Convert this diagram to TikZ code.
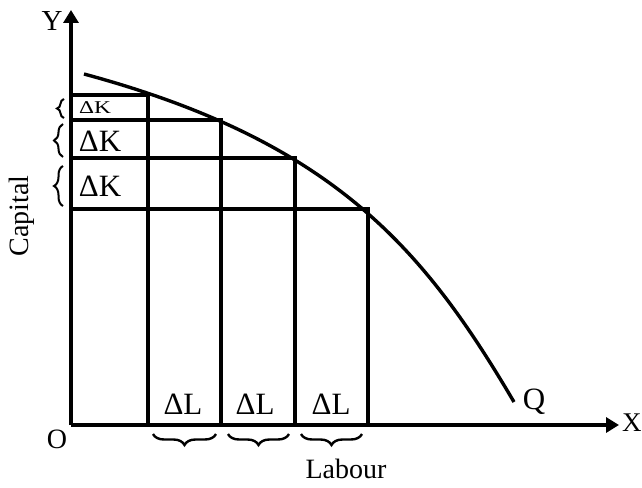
\documentclass[tikz,border=0pt]{standalone}
\usepackage{fontspec}
\setmainfont{Liberation Serif}
\usetikzlibrary{decorations.pathreplacing,arrows.meta}
\tikzset{
  grid/.style={line width=3.2pt},
  axis/.style={line width=3.4pt,-{Triangle[length=13pt,width=15pt]}},
  lbl/.style={font=\fontsize{31}{31}\selectfont, inner sep=0pt},
  smalllbl/.style={font=\fontsize{18}{18}\selectfont, inner sep=0pt, xscale=1.3},
  vbrace/.style={line width=2pt, decorate, decoration={brace, amplitude=9pt}},
  hbrace/.style={line width=2.4pt, decorate, decoration={brace, amplitude=11pt, mirror}},
}
\begin{document}
\begin{tikzpicture}[x=1pt,y=-1pt]
\useasboundingbox (0,0) rectangle (642,487);
\coordinate (O) at (71,425);
\coordinate (Ytip) at (71,10);
\coordinate (Xtip) at (619,425);
% grid
\coordinate (h1) at (71,95);  \coordinate (c1) at (148,95);
\coordinate (h2) at (71,120); \coordinate (c2) at (221,120);
\coordinate (h3) at (71,158); \coordinate (c3) at (295,158);
\coordinate (h4) at (71,209); \coordinate (c4) at (368,209);
\coordinate (b1) at (148,425); \coordinate (b2) at (221,425);
\coordinate (b3) at (295,425); \coordinate (b4) at (368,425);
\draw[grid] (h1) -- (c1) -- (b1);
\draw[grid] (h2) -- (c2) -- (b2);
\draw[grid] (h3) -- (c3) -- (b3);
\draw[grid] (h4) -- (c4) -- (b4);
% axes
\draw[axis] (O) -- (Ytip);
\draw[axis] (O) -- (Xtip);
% curve
\coordinate (qs) at (84,74);
\coordinate (qe) at (514,402);
\draw[line width=3.4pt] (qs) .. controls (334,141.5) and (424,249) .. (qe);
% labels
\node[lbl, font=\fontsize{29}{29}\selectfont] (Ylab) at (52,21) {Y};
\node[lbl, font=\fontsize{27}{27}\selectfont, anchor=west] (Xlab) at (622,423) {X};
\node[lbl, font=\fontsize{28}{28}\selectfont] (Olab) at (57,439) {O};
\node[lbl] (Qlab) at (534,402) {Q};
\node[smalllbl] (k1) at (95,108) {ΔK};
\node[lbl] (k2) at (100,141) {ΔK};
\node[lbl] (k3) at (100,186) {ΔK};
\node[lbl] (l1) at (183,404) {ΔL};
\node[lbl] (l2) at (255,404) {ΔL};
\node[lbl] (l3) at (331,404) {ΔL};
\node[lbl, rotate=90, font=\fontsize{28}{28}\selectfont] (cap) at (22,216) {Capital};
\node[lbl, font=\fontsize{28}{28}\selectfont] (lab) at (346,469) {Labour};
% braces
\coordinate (vb1a) at (64,118); \coordinate (vb1b) at (64,99);
\coordinate (vb2a) at (63,157); \coordinate (vb2b) at (63,124);
\coordinate (vb3a) at (63,206); \coordinate (vb3b) at (63,166);
\draw[vbrace, decoration={brace, amplitude=7pt}] (vb1a) -- (vb1b);
\draw[vbrace] (vb2a) -- (vb2b);
\draw[vbrace] (vb3a) -- (vb3b);
\coordinate (hb1a) at (153,434); \coordinate (hb1b) at (216,434);
\coordinate (hb2a) at (228,434); \coordinate (hb2b) at (289,434);
\coordinate (hb3a) at (301,434); \coordinate (hb3b) at (362,434);
\draw[hbrace] (hb1a) -- (hb1b);
\draw[hbrace] (hb2a) -- (hb2b);
\draw[hbrace] (hb3a) -- (hb3b);
\end{tikzpicture}
\end{document}
